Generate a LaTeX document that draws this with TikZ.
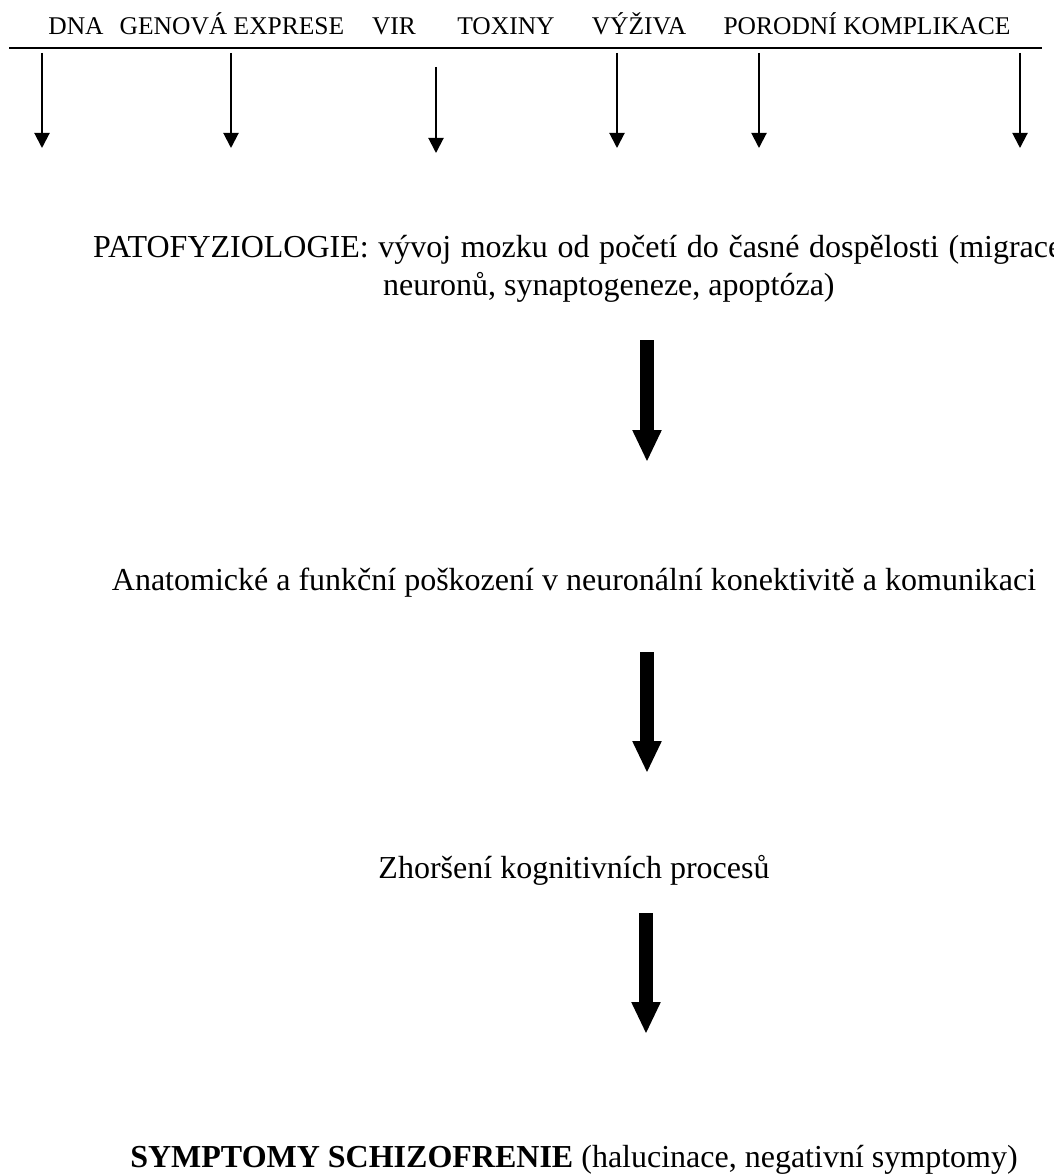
\documentclass[tikz,border=0pt]{standalone}
\usepackage{fontspec}
\setmainfont{Liberation Serif}
\usetikzlibrary{arrows.meta}
\begin{document}
\begin{tikzpicture}[x=1pt,y=-1pt,
  toplabel/.style={anchor=base,inner sep=0pt,font=\fontsize{25.5}{30}\selectfont},
  mainlabel/.style={anchor=base west,inner sep=0pt,font=\fontsize{32}{38}\selectfont},
  thinarrow/.style={line width=2pt,-{Triangle[width=15pt,length=15pt]}},
  thickarrow/.style={line width=14pt,-{Triangle[width=27pt,length=32pt]}}]
\useasboundingbox (0,0) rectangle (1053,1174);
\clip (0,0) rectangle (1053,1174);
% top row of causes
\node[toplabel] (dna) at (76,35) {DNA};
\node[toplabel] (gen) at (232,35) {GENOVÁ EXPRESE};
\node[toplabel] (vir) at (394,35) {VIR};
\node[toplabel] (tox) at (506,35) {TOXINY};
\node[toplabel] (vyz) at (639,35) {VÝŽIVA};
\node[toplabel] (por) at (867,35) {PORODNÍ KOMPLIKACE};
\coordinate (lineL) at (9,48);
\coordinate (lineR) at (1042,48);
\draw[line width=2pt] (lineL) -- (lineR);
% thin arrows
\coordinate (s1) at (42,53);   \coordinate (e1) at (42,148);
\coordinate (s2) at (231,53);  \coordinate (e2) at (231,148);
\coordinate (s3) at (436,67);  \coordinate (e3) at (436,153);
\coordinate (s4) at (617,53);  \coordinate (e4) at (617,148);
\coordinate (s5) at (759,53);  \coordinate (e5) at (759,148);
\coordinate (s6) at (1020,53); \coordinate (e6) at (1020,148);
\foreach \i in {1,...,6} \draw[thinarrow] (s\i) -- (e\i);
% main texts
\node[mainlabel] (pat1) at (93,257) {\spaceskip=9.6pt PATOFYZIOLOGIE: vývoj mozku od početí do časné dospělosti (migrace};
\node[mainlabel] (pat2) at (383,295) {neuronů, synaptogeneze, apoptóza)};
\node[mainlabel,anchor=base] (anat) at (574,590) {Anatomické a funkční poškození v neuronální konektivitě a komunikaci};
\node[mainlabel,anchor=base] (zhor) at (574,878) {Zhoršení kognitivních procesů};
\node[mainlabel,anchor=base] (sym) at (574,1167) {\textbf{SYMPTOMY SCHIZOFRENIE} (halucinace, negativní symptomy)};
% thick arrows
\coordinate (a1s) at (647,340); \coordinate (a1e) at (647,462);
\coordinate (a2s) at (647,652); \coordinate (a2e) at (647,773);
\coordinate (a3s) at (646,913); \coordinate (a3e) at (646,1034);
\draw[thickarrow] (a1s) -- (a1e);
\draw[thickarrow] (a2s) -- (a2e);
\draw[thickarrow] (a3s) -- (a3e);
\end{tikzpicture}
\end{document}
